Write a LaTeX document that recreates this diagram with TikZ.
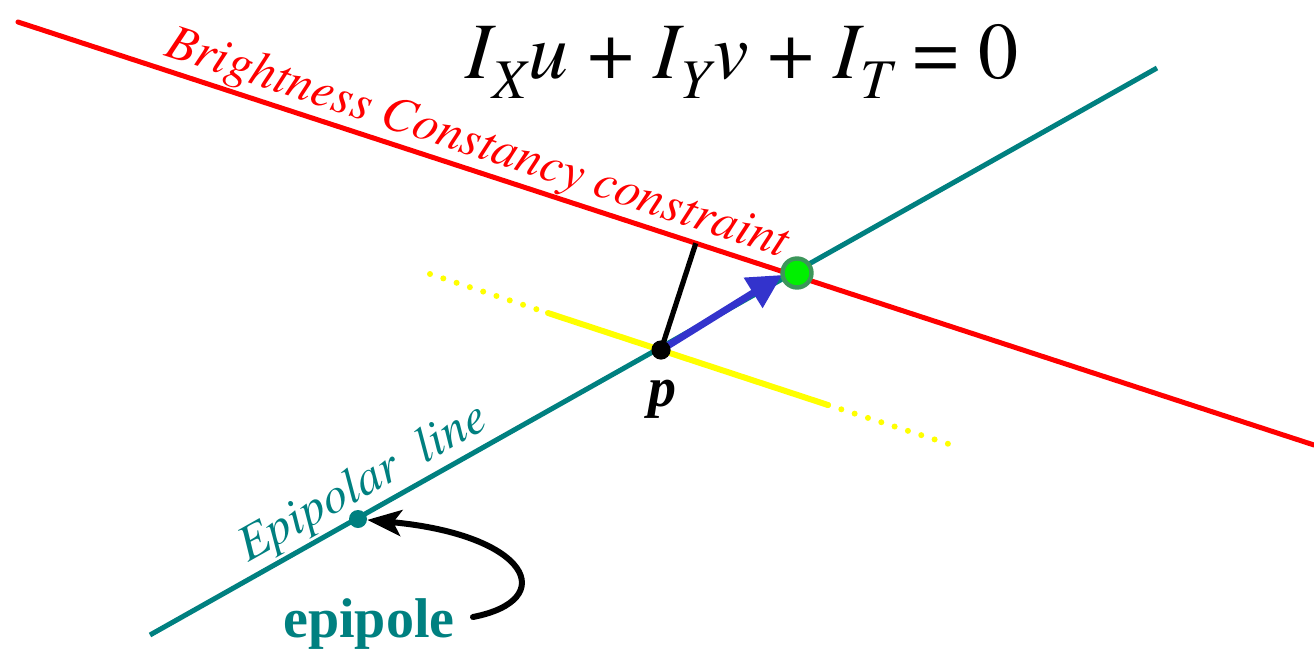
\documentclass[tikz,border=0pt]{standalone}
\usepackage[T1,TU]{fontenc}
\usepackage{fontspec}
\setmainfont{Liberation Serif}
\usetikzlibrary{arrows.meta, positioning, calc}
\definecolor{BCRed}{RGB}{255, 0, 0}
\definecolor{EpiTeal}{RGB}{0, 128, 128}
\definecolor{FlowYellow}{RGB}{255, 255, 0}
\definecolor{FlowBlue}{RGB}{51, 51, 204}
\definecolor{MatchGreen}{RGB}{0, 240, 0}
\definecolor{MatchRing}{RGB}{60, 150, 90}
\newcommand{\tmsit}{\fontencoding{T1}\fontfamily{ptm}\fontseries{m}\fontshape{it}\selectfont}
\newcommand{\tmsrm}{\fontencoding{T1}\fontfamily{ptm}\fontseries{m}\fontshape{n}\selectfont}
\newcommand{\subidx}[1]{\raisebox{-10pt}{\fontsize{28}{28}\tmsit #1}\hspace{1pt}}

\begin{document}
\begin{tikzpicture}[x=0.5pt,y=-0.5pt]
  \path[use as bounding box] (0,0) rectangle (1314,649);

  % Line end points
  \coordinate (bc west) at (18,22);
  \coordinate (bc east) at (1314,445);
  \coordinate (epi west) at (150,635);
  \coordinate (epi east) at (1157,68);
  \coordinate (yl west) at (430,274);
  \coordinate (yl a) at (548,313);
  \coordinate (yl b) at (828,405);
  \coordinate (yl east) at (958,447);

  % Brightness constancy line and epipolar line
  \draw[BCRed, line width=2.5pt, line cap=round] (bc west) -- (bc east);
  \draw[EpiTeal, line width=2.5pt] (epi west) -- (epi east);

  % Yellow line through p
  \draw[FlowYellow, line width=3pt, line cap=round, dash pattern=on 0pt off 7pt] (yl west) -- (yl a);
  \draw[FlowYellow, line width=3pt, line cap=round] (yl a) -- (yl b);
  \draw[FlowYellow, line width=3pt, line cap=round, dash pattern=on 0pt off 7pt] (yl b) -- (yl east);

  % Point p, normal to the constraint line and flow vector
  \coordinate (p) at (661,350);
  \coordinate (foot) at ($(bc west)!(p)!(bc east)$);
  \draw[black, line width=2.6pt] (p) -- (foot);
  \coordinate (tip) at (782,275);
  \draw[FlowBlue, line width=3.5pt, -{Triangle[length=17pt,width=17pt]}] (p) -- (tip);
  \fill[black] (p) circle (4.8pt);
  \node[font=\fontsize{28}{30}\selectfont\bfseries\itshape, anchor=base] (p label) at (662,406) {p};

  % Match on the epipolar line
  \node[circle, fill=MatchGreen, draw=MatchRing, line width=2.2pt, minimum size=14.5pt, inner sep=0pt] (match) at (797,273) {};

  % Epipole
  \node[circle, fill=EpiTeal, minimum size=9pt, inner sep=0pt] (epipole) at (358,519) {};
  \node[font=\fontsize{28}{30}\selectfont\bfseries, text=EpiTeal, anchor=base west, inner sep=0pt] (epipole label) at (283,637) {epipole};
  \coordinate (tail) at (473,617);
  \draw[black, line width=3pt, line cap=round, -{Stealth[length=17pt,width=13pt,inset=4pt]}]
    (tail) .. controls (560,600) and (530,535) .. (epipole);

  % Labels
  \node[font=\fontsize{25}{27}\tmsit, text=BCRed, anchor=base west, inner sep=0pt, rotate=-18.1] (bc label) at (163,55) {Brightness Constancy constraint};
  \node[font=\fontsize{25}{27}\tmsit, text=EpiTeal, anchor=base west, inner sep=0pt, rotate=29.4] (epi label) at (248,563) {Epipolar\ \ line};
  \node[font=\fontsize{40}{44}\tmsrm, anchor=base] (bcc eq) at (742,78)
    {{\tmsit I}\subidx{X}{\tmsit u} + {\tmsit I}\subidx{Y}{\tmsit v} + {\tmsit I}\subidx{T} = 0};
\end{tikzpicture}
\end{document}
